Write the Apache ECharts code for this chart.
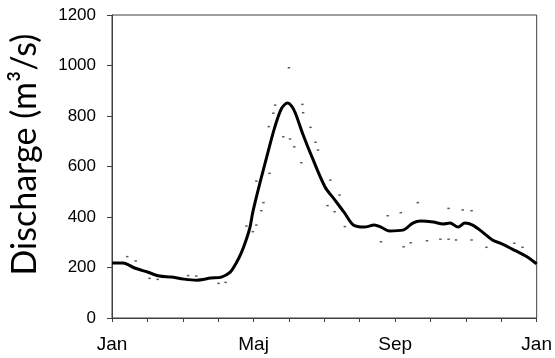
<!DOCTYPE html>
<html><head><meta charset="utf-8">
<script src="https://cdn.jsdelivr.net/npm/echarts@6/dist/echarts.min.js"></script>
<style>html,body{margin:0;padding:0;background:#fff}#c{width:555px;height:358px}</style>
</head><body><div id="c"></div>
<script>
// x in months since 1 Jan (0..12)
const monthTicks = {0:'Jan',4:'Maj',8:'Sep',12:'Jan'};
const yTicks = [0,200,400,600,800,1000,1200];
const meanX = [0,0.31,0.64,1.0,1.34,1.67,2.03,2.40,2.79,3.09,3.34,3.51,3.65,3.79,3.90,3.98,4.18,4.40,4.60,4.79,4.96,5.07,5.18,5.38,5.65,6.02,6.30,6.57,6.82,7.13,7.41,7.60,7.83,8.22,8.50,8.72,9.08,9.36,9.55,9.78,9.97,10.19,10.47,10.75,11.03,11.31,11.59,11.78,12.0];
const meanY = [218,218,198,182,166,162,154,150,158,162,182,218,257,309,360,420,535,653,756,830,851,840,812,733,638,519,467,416,368,360,368,360,345,348,376,384,380,372,376,360,376,368,340,309,293,273,253,238,214];
const upperDots = [[0.43,243],[0.67,226],[2.15,168],[2.38,166],[3.80,364],[4.08,368],[4.08,542],[4.45,573],[4.61,843],[4.56,811],[5.0,991],[5.38,846],[5.40,813],[5.61,755],[5.82,665],[6.17,546],[6.43,487],[6.29,421],[6.09,445],[7.79,405],[8.16,417],[8.64,457],[9.51,434],[9.91,428],[10.16,425],[11.37,296],[11.60,280]];
const lowerDots = [[1.06,157],[1.29,153],[3.01,137],[3.21,141],[3.98,342],[4.22,425],[4.28,457],[4.43,758],[4.84,718],[5.03,709],[5.15,678],[5.35,615],[5.75,696],[6.58,362],[7.60,302],[8.24,282],[8.44,298],[8.90,306],[9.28,312],[9.51,312],[9.72,309],[10.16,309],[10.58,280]];

const chart = echarts.init(document.getElementById('c'));
const font = 'Liberation Sans, Arial, sans-serif';
chart.setOption({
  animation:false,
  grid:{left:107,right:17,top:15,bottom:40,show:true,borderColor:'#404040',borderWidth:1},
  xAxis:{type:'value',min:0,max:12,interval:1,
    axisLine:{lineStyle:{color:'#404040',width:1}},
    axisTick:{show:true,length:4,lineStyle:{color:'#404040'}},
    splitLine:{show:false},
    axisLabel:{margin:17,fontSize:19,color:'#000',fontFamily:font,showMinLabel:true,showMaxLabel:true,
      formatter:v=>monthTicks[v]||''}},
  yAxis:{type:'value',min:yTicks[0],max:yTicks[yTicks.length-1],interval:200,
    name:'Discharge (m³/s)',nameLocation:'middle',nameGap:70,
    nameTextStyle:{fontSize:34,color:'#000',fontFamily:'Lato, sans-serif',padding:[0,0,0,24]},
    axisLine:{show:true,lineStyle:{color:'#404040',width:1}},
    axisTick:{show:true,length:5,lineStyle:{color:'#404040'}},
    splitLine:{show:false},
    axisLabel:{margin:16,fontSize:17,color:'#000',fontFamily:font,formatter:v=>String(v)}},
  series:[
    {type:'scatter',data:upperDots,symbol:'rect',symbolSize:[2.5,1.5],itemStyle:{color:'#333'},silent:true},
    {type:'scatter',data:lowerDots,symbol:'rect',symbolSize:[2.5,1.5],itemStyle:{color:'#333'},silent:true},
    {type:'line',data:meanX.map((x,i)=>[x,meanY[i]]),smooth:0.3,showSymbol:false,
      lineStyle:{color:'#000',width:3}}
  ]
});
</script></body></html>
